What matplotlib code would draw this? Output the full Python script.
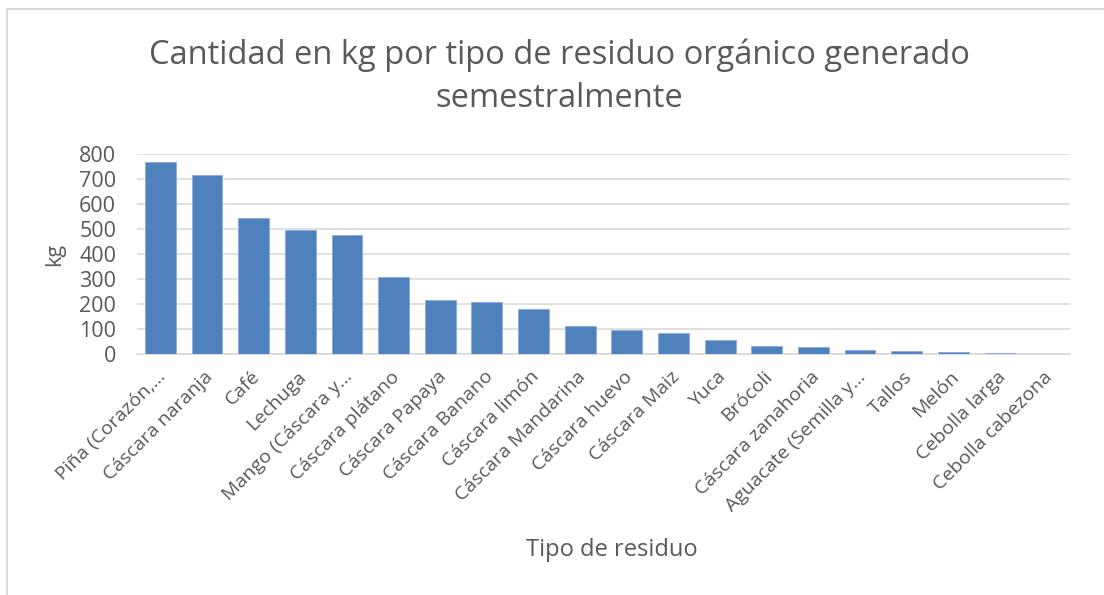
import matplotlib
matplotlib.use("Agg")
import matplotlib.pyplot as plt
import matplotlib.transforms as mtransforms
from matplotlib.lines import Line2D
import numpy as np

categories = ["Piña (Corazón,…", "Cáscara naranja", "Café", "Lechuga", "Mango (Cáscara y…",
              "Cáscara plátano", "Cáscara Papaya", "Cáscara Banano", "Cáscara limón",
              "Cáscara Mandarina", "Cáscara huevo", "Cáscara Maiz", "Yuca", "Brócoli",
              "Cáscara zanahoria", "Aguacate (Semilla y…", "Tallos", "Melón", "Cebolla larga",
              "Cebolla cabezona"]
values = [769, 716, 546, 495, 477, 310, 215, 210, 182, 113, 97, 85, 55, 33, 29, 16, 11, 8, 3, 0.5]
yticks = [0, 100, 200, 300, 400, 500, 600, 700, 800]
title = "Cantidad en kg por tipo de residuo orgánico generado\nsemestralmente"

TXT = "#595959"
plt.rcParams['font.family'] = ['Open Sans', 'DejaVu Sans']

W, H = 1104, 595
fig = plt.figure(figsize=(W / 100, H / 100), dpi=100)
# chart frame (only left and top edges are visible in the reference)
fig.lines.append(Line2D([7 / W, 7 / W], [0, 1 - 9 / H], transform=fig.transFigure,
                        color="#D9D9D9", linewidth=1.3))
fig.lines.append(Line2D([7 / W, 1], [1 - 9 / H, 1 - 9 / H], transform=fig.transFigure,
                        color="#D9D9D9", linewidth=1.3))

ax = fig.add_axes([137 / W, 1 - 354 / H, (1070 - 137) / W, (354 - 154) / H])
x = np.arange(len(categories))
ax.bar(x, values, width=0.66, color="#4F81BD", edgecolor="#8EAADB", linewidth=0.6, zorder=3)
ax.set_xlim(-0.5, len(categories) - 0.5)
ax.set_ylim(0, 800)
ax.set_yticks(yticks)
ax.set_yticklabels([str(v) for v in yticks], fontsize=15.5, color=TXT)
ax.yaxis.grid(True, color="#D9D9D9", linewidth=1.2, zorder=0)
ax.tick_params(axis="y", length=0, pad=15)
ax.tick_params(axis="x", length=0, pad=0)
for s in ["top", "right", "left"]:
    ax.spines[s].set_visible(False)
ax.spines["bottom"].set_color("#D9D9D9")
ax.spines["bottom"].set_linewidth(1.2)

ax.set_xticks(x)
ax.set_xticklabels(categories, rotation=45, ha="right", va="center", rotation_mode="anchor",
                   fontsize=14, color=TXT)
offset = mtransforms.ScaledTranslation(3 / 100, -20 / 100, fig.dpi_scale_trans)
for lbl in ax.get_xticklabels():
    lbl.set_transform(lbl.get_transform() + offset)

ax.set_ylabel("kg", fontsize=15.5, color=TXT, labelpad=10)
fig.text(612 / W, 1 - 550 / H, "Tipo de residuo", ha="center", va="center", fontsize=17, color=TXT)
fig.text(559 / W, 1 - 77 / H, title, ha="center", va="center", fontsize=23.5, color=TXT,
         linespacing=1.4)

fig.savefig("out.png", dpi=100, facecolor="white")
